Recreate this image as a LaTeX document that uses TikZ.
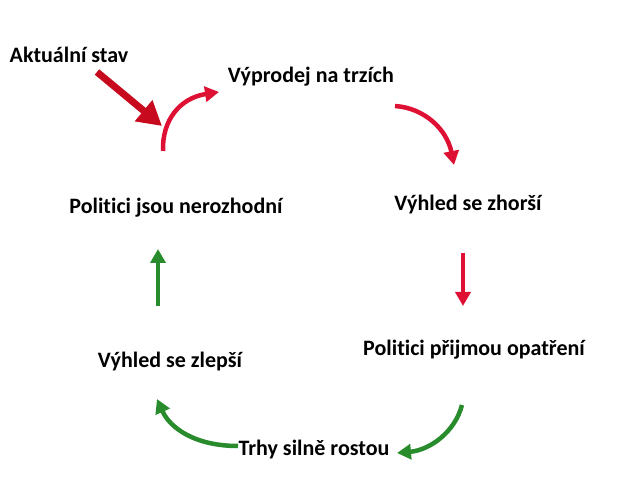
\documentclass[tikz,border=0pt]{standalone}
\usepackage{fontspec}
\setmainfont[Ligatures=NoCommon]{Carlito}
\usetikzlibrary{arrows.meta}
\definecolor{cred}{RGB}{222,16,52}
\definecolor{cdred}{RGB}{200,10,30}
\definecolor{cgreen}{RGB}{40,140,45}
\tikzset{
  lbl/.style={font=\bfseries\fontsize{22}{24}\selectfont, text=black, inner sep=0pt},
  redarr/.style={draw=cred, line width=4.5pt, -{Triangle[length=14pt,width=15pt]}},
  greenarr/.style={draw=cgreen, line width=4.5pt, -{Triangle[length=14pt,width=15pt]}},
  startarr/.style={draw=cdred, line width=7pt, -{Triangle[length=24pt,width=26pt]}},
}
\begin{document}
\begin{tikzpicture}[x=1pt,y=-1pt]
\useasboundingbox (0,0) rectangle (640,494);
\node[lbl] (akt) at (69,55) {Aktuální stav};
\node[lbl] (vyp) at (311,77) {Výprodej na trzích};
\node[lbl] (zhor) at (468,205) {Výhled se zhorší};
\node[lbl] (nero) at (176,208) {Politici jsou nerozhodní};
\node[lbl] (opat) at (474,350) {Politici přijmou opatření};
\node[lbl] (zlep) at (170,362) {Výhled se zlepší};
\node[lbl] (trhy) at (314,450) {Trhy silně rostou};

\coordinate (a1) at (97,72);
\coordinate (a2) at (162,126);
\coordinate (b1) at (163,151);
\coordinate (b2) at (219,92);
\coordinate (c1) at (395,106);
\coordinate (c2) at (454,165);
\coordinate (d1) at (463,253);
\coordinate (d2) at (463,306);
\coordinate (e1) at (462,405);
\coordinate (e2) at (397,453);
\coordinate (f1) at (238,446);
\coordinate (f2) at (157,399);
\coordinate (g1) at (158,306);
\coordinate (g2) at (158,249);

\draw[startarr] (a1) -- (a2);
\draw[redarr] (b1) .. controls (162,120) and (180,98) .. (b2);
\draw[redarr] (c1) .. controls (425,108) and (447,130) .. (c2);
\draw[redarr] (d1) -- (d2);
\draw[greenarr] (e1) .. controls (455,432) and (430,450) .. (e2);
\draw[greenarr] (f1) .. controls (195,446) and (170,428) .. (f2);
\draw[greenarr] (g1) -- (g2);
\end{tikzpicture}
\end{document}
